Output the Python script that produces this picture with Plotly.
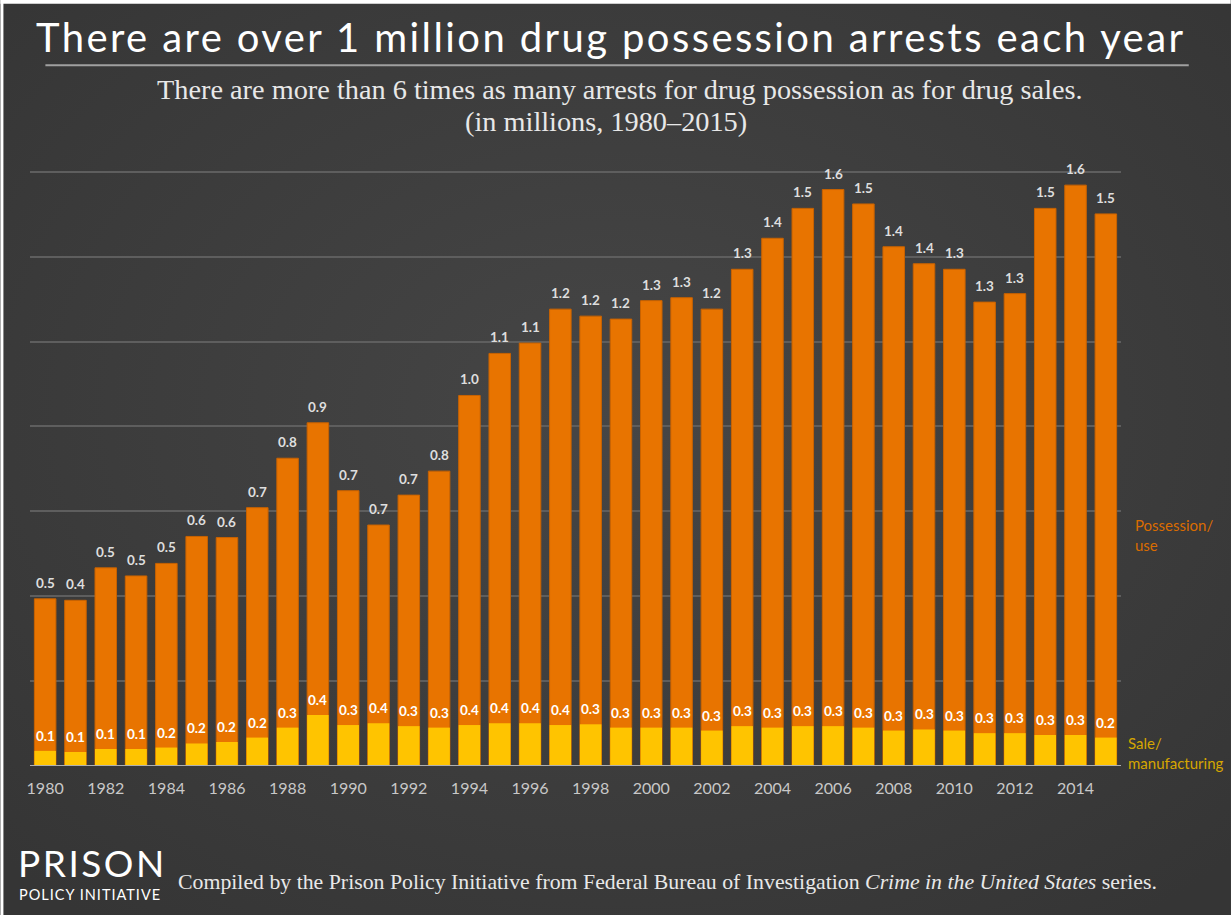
import base64
import plotly.graph_objects as go

years = list(range(1980, 2016))
# Drawn bar heights (possession/use, in millions)
possession = [0.453, 0.449, 0.537, 0.515, 0.549, 0.622, 0.619, 0.700, 0.834, 0.930,
              0.746, 0.653, 0.734, 0.799, 1.004, 1.118, 1.146, 1.238, 1.219, 1.211,
              1.261, 1.269, 1.238, 1.346, 1.430, 1.511, 1.562, 1.523, 1.407, 1.361,
              1.346, 1.257, 1.280, 1.511, 1.574, 1.496]
# Drawn heights of the yellow sale/manufacturing segment, as they appear in the picture
sale_drawn = [0.041, 0.038, 0.046, 0.046, 0.050, 0.061, 0.065, 0.077, 0.104, 0.138,
              0.111, 0.116, 0.108, 0.104, 0.111, 0.116, 0.116, 0.111, 0.113, 0.104,
              0.104, 0.104, 0.096, 0.108, 0.104, 0.108, 0.108, 0.104, 0.096, 0.099,
              0.096, 0.089, 0.089, 0.084, 0.084, 0.077]
# Labels printed on the chart
possession_labels = ["0.5", "0.4", "0.5", "0.5", "0.5", "0.6", "0.6", "0.7", "0.8", "0.9",
                     "0.7", "0.7", "0.7", "0.8", "1.0", "1.1", "1.1", "1.2", "1.2", "1.2",
                     "1.3", "1.3", "1.2", "1.3", "1.4", "1.5", "1.6", "1.5", "1.4", "1.4",
                     "1.3", "1.3", "1.3", "1.5", "1.6", "1.5"]
sale_labels = ["0.1", "0.1", "0.1", "0.1", "0.2", "0.2", "0.2", "0.2", "0.3", "0.4",
               "0.3", "0.4", "0.3", "0.3", "0.4", "0.4", "0.4", "0.4", "0.3", "0.3",
               "0.3", "0.3", "0.3", "0.3", "0.3", "0.3", "0.3", "0.3", "0.3", "0.3",
               "0.3", "0.3", "0.3", "0.3", "0.3", "0.2"]
tick_years = list(range(1980, 2016, 2))

ORANGE = "#E87400"
YELLOW = "#FFC400"
SANS = "Lato, 'Open Sans', sans-serif"
SERIF = "'Liberation Serif', 'DejaVu Serif', serif"

W, H = 1231, 915
YTOP = 1.615
K = 594 / 1.6103           # pixels per unit
L, R, B = 29.6, 109.8, 149
T = H - B - YTOP * K
pw, ph = W - L - R, H - T - B

# radial background gradient as inline SVG
svg = f'''<svg xmlns="http://www.w3.org/2000/svg" width="{W}" height="{H}">
<defs><radialGradient id="g" cx="50%" cy="45%" r="70%">
<stop offset="0%" stop-color="#464646"/><stop offset="100%" stop-color="#353535"/>
</radialGradient></defs><rect width="{W}" height="{H}" fill="url(#g)"/></svg>'''
bg_src = "data:image/svg+xml;base64," + base64.b64encode(svg.encode()).decode()

fig = go.Figure()
fig.add_trace(go.Bar(x=years, y=possession, marker=dict(color=ORANGE, line=dict(color="#C86200", width=1)),
                     name="Possession/use", hoverinfo="x+y"))
fig.add_trace(go.Bar(x=years, y=sale_drawn, marker=dict(color=YELLOW, line=dict(width=0)),
                     name="Sale/manufacturing", hoverinfo="x+y"))

annotations = []
for yr, p, s, pl, sl in zip(years, possession, sale_drawn, possession_labels, sale_labels):
    annotations.append(dict(x=yr, y=p, text=f"<b>{pl}</b>", showarrow=False, yshift=16,
                            font=dict(family=SANS, size=13.5, color="#DEDEDE"), xref="x", yref="y"))
    annotations.append(dict(x=yr, y=s, text=f"<b>{sl}</b>", showarrow=False, yshift=15,
                            font=dict(family=SANS, size=13.5, color="#FFFFFF"), xref="x", yref="y"))

def px_x(px):
    return (px - L) / pw

def px_y(py):
    return (H - B - py) / ph

def spaced(txt, ls):
    return f'<span style="letter-spacing:{ls}px">{txt}</span>'

annotations += [
    dict(xref="paper", yref="paper", x=px_x(610), y=px_y(37),
         text=spaced("There are over 1 million drug possession arrests each year", 2.4),
         showarrow=False, font=dict(family=SANS, size=40, color="#FFFFFF"), xanchor="center", yanchor="middle"),
    dict(xref="paper", yref="paper", x=px_x(620), y=px_y(90),
         text="There are more than 6 times as many arrests for drug possession as for drug sales.",
         showarrow=False, font=dict(family=SERIF, size=28.3, color="#E8E8E8"), xanchor="center", yanchor="middle"),
    dict(xref="paper", yref="paper", x=px_x(606), y=px_y(122), text="(in millions, 1980\u20132015)",
         showarrow=False, font=dict(family=SERIF, size=28.3, color="#E8E8E8"), xanchor="center", yanchor="middle"),
    dict(xref="paper", yref="paper", x=px_x(1133), y=px_y(535), text="Possession/<br>use", align="left",
         showarrow=False, font=dict(family=SANS, size=15, color="#D96C00"), xanchor="left", yanchor="middle"),
    dict(xref="paper", yref="paper", x=px_x(1126), y=px_y(753), text="Sale/<br>manufacturing", align="left",
         showarrow=False, font=dict(family=SANS, size=15, color="#D6A600"), xanchor="left", yanchor="middle"),
    dict(xref="paper", yref="paper", x=px_x(16), y=px_y(862), text=spaced("PRISON", 2.5),
         showarrow=False, font=dict(family=SANS, size=37, color="#FFFFFF"), xanchor="left", yanchor="middle"),
    dict(xref="paper", yref="paper", x=px_x(17), y=px_y(894), text=spaced("POLICY INITIATIVE", 1),
         showarrow=False, font=dict(family=SANS, size=14.5, color="#FFFFFF"), xanchor="left", yanchor="middle"),
    dict(xref="paper", yref="paper", x=px_x(176), y=px_y(882),
         text="Compiled by the Prison Policy Initiative from Federal Bureau of Investigation <i>Crime in the United States</i> series.",
         showarrow=False, font=dict(family=SERIF, size=21.8, color="#E8E8E8"), xanchor="left", yanchor="middle"),
]

shapes = [
    dict(type="line", xref="paper", yref="paper", x0=px_x(45), x1=px_x(1189), y0=px_y(65.5), y1=px_y(65.5),
         line=dict(color="#A0A0A0", width=2)),
    dict(type="line", xref="paper", yref="y", x0=0, x1=1, y0=0, y1=0, line=dict(color="#B0B0B0", width=2)),
    # thin white frame at top and left edges
    dict(type="rect", xref="paper", yref="paper", x0=px_x(0), x1=px_x(W), y0=px_y(0), y1=px_y(4),
         fillcolor="#FFFFFF", line=dict(width=0)),
    dict(type="rect", xref="paper", yref="paper", x0=px_x(0), x1=px_x(3), y0=px_y(0), y1=px_y(H),
         fillcolor="#FFFFFF", line=dict(width=0)),
]

fig.update_layout(
    width=W, height=H,
    margin=dict(l=L, r=R, t=T, b=B, pad=0),
    paper_bgcolor="#3C3C3C", plot_bgcolor="rgba(0,0,0,0)",
    barmode="overlay", bargap=0.29, showlegend=False,
    xaxis=dict(range=[1979.5, 2015.5], tickmode="array", tickvals=tick_years,
               ticktext=[str(y) for y in tick_years], showgrid=False, zeroline=False,
               tickfont=dict(family=SANS, size=16, color="#C8C8C8"),
               ticks="outside", ticklen=8, tickcolor="rgba(0,0,0,0)"),
    yaxis=dict(range=[0, YTOP], tick0=0, dtick=0.23, showticklabels=False, showgrid=True,
               gridcolor="#5E5E5E", gridwidth=1.5, zeroline=False, ticks=""),
    annotations=annotations, shapes=shapes,
    images=[dict(source=bg_src, xref="paper", yref="paper", x=px_x(0), y=px_y(0),
                 sizex=W / pw, sizey=H / ph, sizing="stretch", layer="below", xanchor="left", yanchor="top")],
)

fig.write_html("out.html")
